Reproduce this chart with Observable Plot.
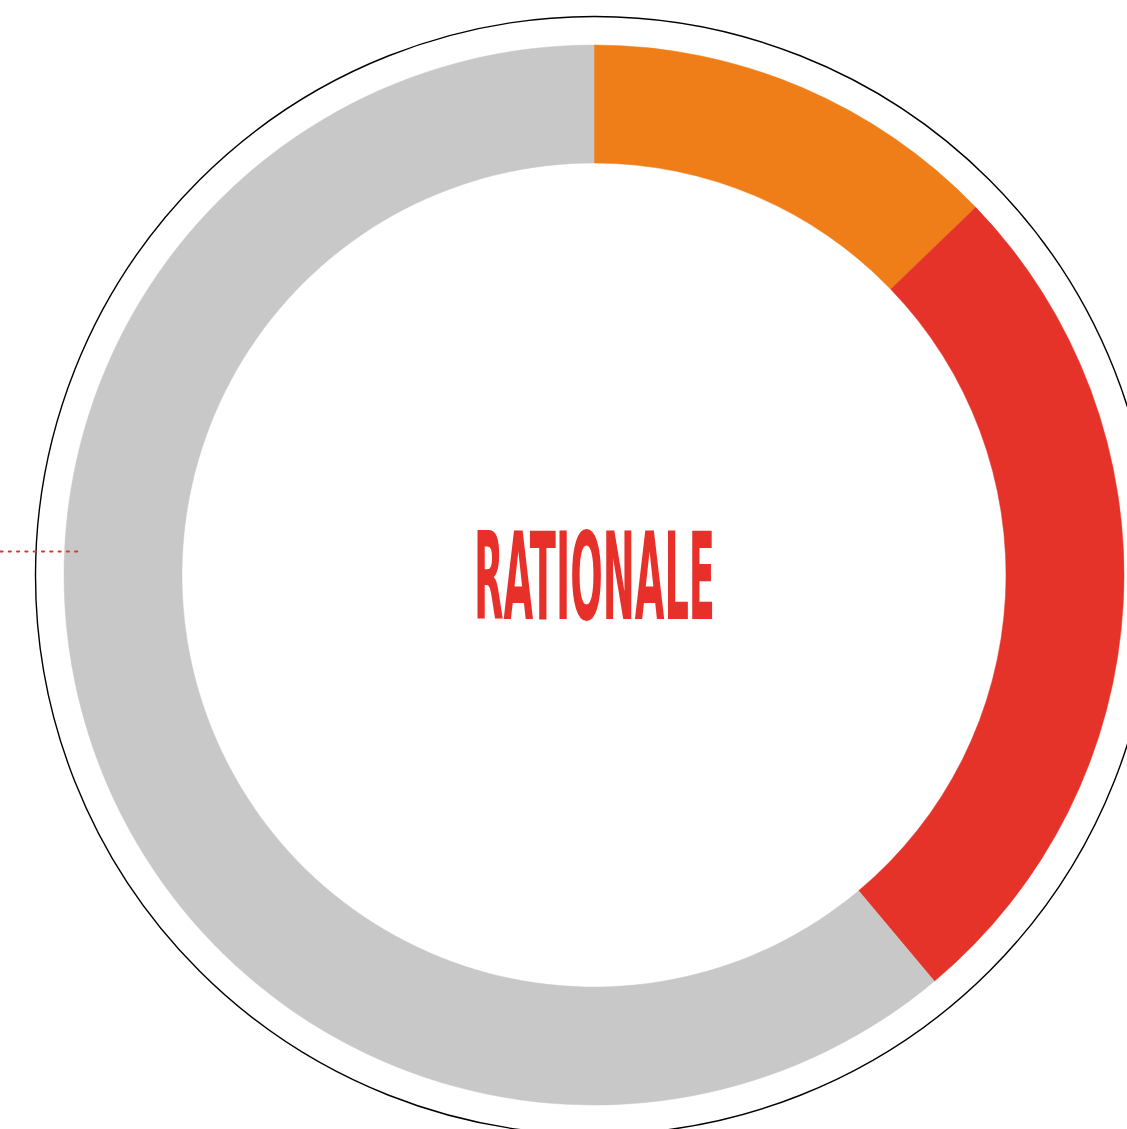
<!DOCTYPE html>
<html>
<head>
<meta charset="utf-8">
<script src="https://cdn.jsdelivr.net/npm/d3@7"></script>
<script src="https://cdn.jsdelivr.net/npm/@observablehq/plot@0.6"></script>
<style>
  html, body { margin: 0; padding: 0; background: #fff; overflow: hidden; }
  #chart svg { display: block; }
</style>
</head>
<body>
<div id="chart"></div>
<script>
// Data
const categories = ["Segment A", "Segment B", "Other"];
const shares = [12.8, 26.1, 61.1];
const sliceColors = ["#EF7D18", "#E63329", "#C8C8C8"];
const centerLabel = ["RATIONALE"];

const W = 1127, H = 1129;
const cx = 594, cy = 575;
const outerR = 530, innerR = 412, ringR = 559;

const slices = categories.map((c, i) => ({category: c, value: shares[i], color: sliceColors[i]}));

function donutMark(index, scales, values, dimensions, context) {
  const pie = d3.pie().sort(null).value(d => d.value);
  const arc = d3.arc().innerRadius(innerR).outerRadius(outerR);
  const g = d3.create("svg:g")
    .attr("transform", `translate(${scales.x(0)},${scales.y(0)})`);
  g.selectAll("path")
    .data(pie(slices))
    .join("path")
    .attr("d", arc)
    .attr("fill", d => d.data.color)
    .attr("stroke", d => d.data.color)
    .attr("stroke-width", 0.5);
  return g.node();
}

const plot = Plot.plot({
  width: W,
  height: H,
  margin: 0,
  x: {domain: [-cx, W - cx], range: [0, W], axis: null},
  y: {domain: [-(H - cy), cy], range: [H, 0], axis: null},
  marks: [
    Plot.dot([0], {x: 0, y: 0, r: ringR, stroke: "#000", strokeWidth: 1.4, fill: "none"}),
    donutMark,
    Plot.line([{x: -cx, y: 24}, {x: -cx + 83, y: 24}], {
      x: "x", y: "y", stroke: "#E63329", strokeWidth: 2.2, strokeDasharray: "2,6.3"
    }),
    Plot.text(centerLabel, {
      x: 0, y: cy - 618, text: d => d,
      fill: "#E8302A", fontSize: 122, fontWeight: "bold",
      fontFamily: "Liberation Sans Narrow, DejaVu Sans Condensed, sans-serif",
      textAnchor: "middle", lineAnchor: "bottom"
    })
  ]
});

d3.select(plot).selectAll("text")
  .filter(function() { return this.textContent === "RATIONALE"; })
  .attr("textLength", 241)
  .attr("lengthAdjust", "spacingAndGlyphs")
  .attr("dy", null);

document.getElementById("chart").appendChild(plot);
</script>
</body>
</html>
